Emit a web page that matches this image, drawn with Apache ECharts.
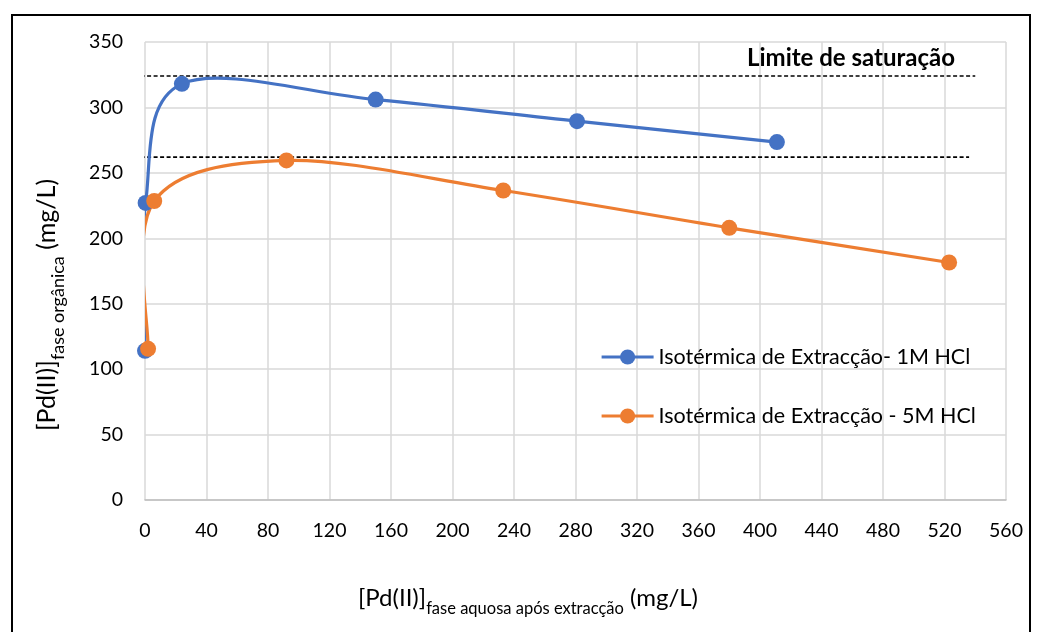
<!DOCTYPE html>
<html>
<head>
<meta charset="utf-8">
<script src="https://cdn.jsdelivr.net/npm/echarts@6/dist/echarts.min.js"></script>
<style>
  html, body { margin: 0; padding: 0; background: #fff; }
  #chart { width: 1038px; height: 632px; }
</style>
</head>
<body>
<div id="chart"></div>
<script>
// Extraction isotherms: Pd(II) in the aqueous phase (x) vs organic phase (y), mg/L
const seriesNames = ['Isotérmica de Extracção- 1M HCl', 'Isotérmica de Extracção - 5M HCl'];
const aqueous1M = [0, 0.4, 24, 150, 281, 411];
const organic1M = [114, 227, 318, 306, 289.5, 273.5];
const aqueous5M = [2, 6, 92, 233, 380, 523];
const organic5M = [115.5, 228.5, 259.5, 236.5, 208, 181.5];

// Saturation limits (dashed reference lines) and their horizontal extent
const saturationLevels = [324, 262];
const saturationStart = [-24, -24];
const saturationEnd = [540, 536];
const saturationLabel = 'Limite de saturação';

const COLORS = ['#4472C4', '#ED7D31'];
const FONT = 'Lato, "Open Sans", sans-serif';

const pairs = (xs, ys) => xs.map((x, i) => [x, ys[i]]);
const data1M = pairs(aqueous1M, organic1M);
const data5M = pairs(aqueous5M, organic5M);

// Smoothed path through pixel points (Catmull-Rom converted to cubic Bezier segments)
function bezierSegments(pts, color) {
  const n = pts.length;
  const segs = [];
  for (let i = 0; i < n - 1; i++) {
    const p0 = pts[Math.max(i - 1, 0)];
    const p1 = pts[i];
    const p2 = pts[i + 1];
    const p3 = pts[Math.min(i + 2, n - 1)];
    segs.push({
      type: 'bezierCurve',
      shape: {
        x1: p1[0], y1: p1[1],
        cpx1: p1[0] + (p2[0] - p0[0]) / 6, cpy1: p1[1] + (p2[1] - p0[1]) / 6,
        cpx2: p2[0] - (p3[0] - p1[0]) / 6, cpy2: p2[1] - (p3[1] - p1[1]) / 6,
        x2: p2[0], y2: p2[1]
      },
      style: { fill: null, stroke: color, lineWidth: 3.2, lineCap: 'round' }
    });
  }
  return segs;
}

function smoothCurveSeries(points, color, name) {
  return {
    type: 'custom',
    name: name,
    data: points,
    clip: true,
    silent: true,
    z: 3,
    renderItem(params, api) {
      if (params.dataIndex !== 0) return null;
      const px = points.map(p => api.coord(p));
      return { type: 'group', children: bezierSegments(px, color) };
    }
  };
}

function markerSeries(points, color, name) {
  return {
    type: 'line',
    name: name,
    data: points,
    symbol: 'circle',
    symbolSize: 16,
    showSymbol: true,
    itemStyle: { color: color, opacity: 1 },
    lineStyle: { color: color, width: 3, opacity: 0 },
    z: 5,
    silent: true
  };
}

function saturationSeries(i) {
  return {
    type: 'line',
    name: 'sat' + i,
    data: [[saturationStart[i], saturationLevels[i]], [saturationEnd[i], saturationLevels[i]]],
    clip: false,
    symbol: 'none',
    silent: true,
    z: 2,
    lineStyle: { color: '#000', width: 1.7, type: [4, 2.5] }
  };
}

const chart = echarts.init(document.getElementById('chart'), null, { renderer: 'canvas' });

const xMain = { fontFamily: FONT, fontSize: 24, color: '#000', lineHeight: 38, verticalAlign: 'middle' };
const xSub = { fontFamily: FONT, fontSize: 16.5, color: '#000', lineHeight: 16, verticalAlign: 'bottom' };
const yMain = { fontFamily: FONT, fontSize: 25, color: '#000', lineHeight: 40, verticalAlign: 'middle' };
const ySub = { fontFamily: FONT, fontSize: 18, color: '#000', lineHeight: 17, verticalAlign: 'bottom' };

chart.setOption({
  animation: false,
  backgroundColor: '#fff',
  grid: { left: 145, right: 32, top: 42, bottom: 132, containLabel: false },
  xAxis: {
    type: 'value', min: 0, max: 560, interval: 40,
    axisLine: { show: true, lineStyle: { color: '#bfbfbf', width: 1.5 } },
    axisTick: { show: false },
    axisLabel: { fontFamily: FONT, fontSize: 19.5, color: '#000', margin: 21 },
    splitLine: { show: true, lineStyle: { color: '#d9d9d9', width: 1.5 } }
  },
  yAxis: {
    type: 'value', min: 0, max: 350, interval: 50,
    axisLine: { show: false },
    axisTick: { show: false },
    axisLabel: { fontFamily: FONT, fontSize: 19.5, color: '#000', margin: 22 },
    splitLine: { show: true, lineStyle: { color: '#d9d9d9', width: 1.5 } }
  },
  legend: {
    data: seriesNames,
    orient: 'vertical',
    left: 600, top: 345,
    padding: 0,
    itemGap: 35,
    itemWidth: 52, itemHeight: 19,
    selectedMode: false,
    textStyle: { fontFamily: FONT, fontSize: 21.5, color: '#000', lineHeight: 24 },
    lineStyle: { width: 3.2, opacity: 1 },
    itemStyle: { opacity: 1 }
  },
  graphic: [
    {
      type: 'rect', silent: true, z: 0,
      shape: { x: 12, y: 15, width: 1018, height: 640 },
      style: { fill: null, stroke: '#000', lineWidth: 2 }
    },
    {
      type: 'text', x: 747, y: 58, silent: true, z: 10,
      style: {
        text: saturationLabel, fontFamily: FONT, fontSize: 24, fontWeight: 'bold',
        fill: '#000', align: 'left', verticalAlign: 'middle'
      }
    },
    {
      type: 'text', x: 528, y: 598, silent: true, z: 10,
      style: {
        text: '{m|[Pd(II)]}{s|fase aquosa após extracção}{m| (mg/L)}',
        align: 'center', verticalAlign: 'middle',
        rich: { m: xMain, s: xSub }
      }
    },
    {
      type: 'text', x: 47, y: 305, rotation: Math.PI / 2, silent: true, z: 10,
      style: {
        text: '{m|[Pd(II)]}{s|fase orgânica}{m| (mg/L)}',
        align: 'center', verticalAlign: 'middle',
        rich: { m: yMain, s: ySub }
      }
    }
  ],
  series: [
    saturationSeries(0),
    saturationSeries(1),
    smoothCurveSeries(data1M, COLORS[0], 'curve1M'),
    smoothCurveSeries(data5M, COLORS[1], 'curve5M'),
    markerSeries(data1M, COLORS[0], seriesNames[0]),
    markerSeries(data5M, COLORS[1], seriesNames[1])
  ]
});
</script>
</body>
</html>
